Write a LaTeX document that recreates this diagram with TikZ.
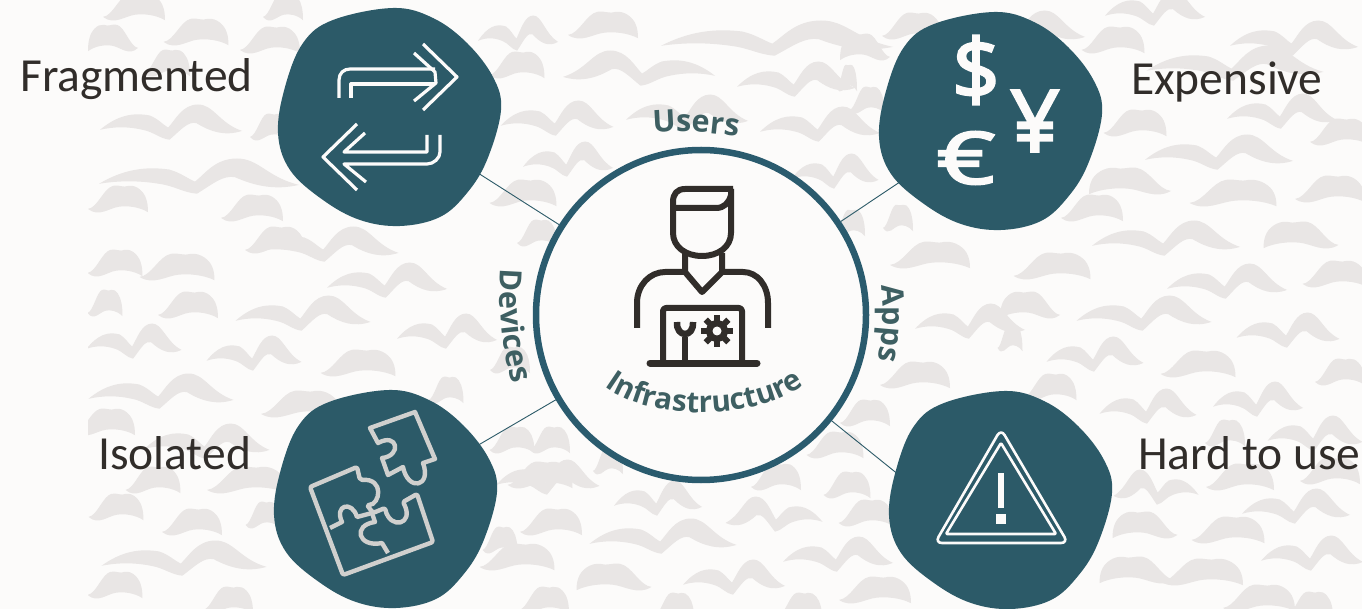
\documentclass[tikz,border=0pt]{standalone}
\usepackage{fontspec}
\setmainfont{Carlito}
\newfontfamily\curvefont{Open Sans}
\newfontfamily\moneyfont[FakeBold=3]{Open Sans}
\usetikzlibrary{decorations.text}
\definecolor{paper}{HTML}{FCFBFA}
\definecolor{smudge}{HTML}{E9E6E5}
\definecolor{teal}{HTML}{2C5A68}
\definecolor{ring}{HTML}{2A5B6E}
\definecolor{ink}{HTML}{312D2A}
\definecolor{curveink}{HTML}{3E5F62}
\definecolor{puzzle}{HTML}{D0D0CE}
\newcommand{\wavelong}{(-50,8) .. controls (-38,-5) and (-27,-8) .. (-15,-5) .. controls (-9,-2) and (-6,3) .. (-2,6) .. controls (3,-1) and (8,-15) .. (19,-15) .. controls (30,-15) and (34,2) .. (50,9) .. controls (38,14) and (28,10) .. (18,2) .. controls (12,0) and (7,8) .. (-1,17) .. controls (-8,16) and (-12,10) .. (-20,8) .. controls (-30,5) and (-40,5) .. (-50,8) -- cycle}
\newcommand{\waveshort}{(-50,9) .. controls (-34,8) and (-24,-10) .. (-8,-12) .. controls (4,-13) and (8,-10) .. (18,-12) .. controls (32,-13) and (44,-6) .. (47,0) .. controls (49,3) and (50,7) .. (50,12) .. controls (35,7) and (15,6) .. (2,7) .. controls (-14,8) and (-32,17) .. (-50,9) -- cycle}
\newcommand{\blobpath}{plot[smooth cycle,tension=0.62] coordinates {(3,-109) (-57,-97) (-87,-74) (-105,-30) (-112,16) (-100,53) (-67,83) (-30,103) (10,109) (50,100) (77,76) (97,43) (111,-7) (103,-40) (77,-74) (43,-99)}}
\begin{document}
\begin{tikzpicture}[x=1pt,y=-1pt,
    sidelabel/.style={anchor=base west,inner sep=0pt,text=ink,font=\fontsize{47.5}{47.5}\selectfont},
    moneysign/.style={inner sep=0pt,text=paper,font=\moneyfont\fontsize{#1}{#1}\selectfont},
    spoke/.style={draw=teal,line width=0.9pt},
    iconline/.style={draw=paper,line width=3.2pt,line join=round},
    dude/.style={draw=ink,line width=6pt,line join=round},
    curvelabel/.style={decorate,decoration={text along path,text align=center}}]
\useasboundingbox (0,0) rectangle (1362,609);
\fill[paper] (0,0) rectangle (1362,609);
\begin{scope}
\clip (88,0) rectangle (1362,609);
\foreach \x/\y/\w in {115/263/55,177/267/75,105/303/35,188/305/60,358/363/75,301/404/80,105/422/60,247/480/80,153/480/55,116/507/55,192/522/60,263/515/35,115/585/55,228/600/50,446/390/35,540/475/65,500/540/35,
  1135/123/63,1340/132/60,1130/181/-82,1233/193/87,1330/189/70,1092/208/62,1301/235/-75,1052/266/77,1335/274/65,1030/305/-60,1010/338/25,1198/364/75,1340/372/50,1050/387/53,
  603/25/70,517/65/55,940/93/50,113/38/-50,196/32/65,270/40/60,134/7/62,283/7/40,167/63/46,118/199/60,252/208/62,275/240/60,270/127/40,
  608/461/30,551/522/62,776/477/50,847/485/47,835/445/57,866/513/55,517/557/75,614/577/-75,875/590/72,544/600/50,674/606/40,800/606/44,550/440/40,
  1240/477/68,1225/433/40,1330/471/60,1145/525/-65,1228/530/73,1137/570/-75,1202/572/82,1259/598/72,1310/605/46,
  912/26/60,1113/40/63,865/47/-50,867/100/35,847/78/20,850/223/30,898/218/30,537/233/40,523/193/67,865/413/50,930/255/80,915/375/70,510/360/40,512/440/45,985/440/50} {
  \begin{scope}[shift={(\x,\y)},xscale=\w/100,yscale=1.1]
  \fill[smudge] \waveshort;
  \end{scope}
}
\foreach \x/\y/\w in {326/243/145,387/279/120,303/312/135,447/330/100,134/340/95,254/352/95,161/390/145,207/440/125,184/557/165,
  1282/110/110,1219/151/148,1166/237/148,1227/280/120,1144/312/135,1288/329/103,1095/353/97,1148/405/97,1258/398/90,
  518/32/80,777/37/232,639/67/-152,796/78/118,557/117/113,687/111/122,820/123/120,171/121/142,199/175/200,568/158/90,835/170/87,
  548/476/103,658/497/88,663/535/147,774/513/-97,838/553/110,734/576/102,
  1156/486/-85,1315/432/95,1296/505/108,1312/552/102,1155/7/100,1294/37/128,1235/62/177,1020/27/130,970/320/110} {
  \begin{scope}[shift={(\x,\y)},xscale=\w/100,yscale=1.1]
  \fill[smudge] \wavelong;
  \end{scope}
}
\end{scope}
\node[circle,draw=ring,fill=paper,line width=6.5pt,minimum size=330pt,inner sep=0pt] (hub) at (701,315) {};
\coordinate (fragc) at (390,117);
\coordinate (costc) at (991,121);
\coordinate (isoc) at (386,499);
\coordinate (hardc) at (930,500);
\path[spoke] (hub) -- (fragc);
\path[spoke] (hub) -- (costc);
\path[spoke] (hub) -- (isoc);
\path[spoke] (hub.-39) -- (hardc);
\begin{scope}[shift={(fragc)}]
\fill[teal] \blobpath;
\end{scope}
\begin{scope}[shift={(costc)}]
\fill[teal] \blobpath;
\end{scope}
\begin{scope}[shift={(isoc)}]
\fill[teal] \blobpath;
\end{scope}
\begin{scope}[shift={(1001,500)}]
\fill[teal] \blobpath;
\end{scope}
\draw[iconline] (423,44) -- (457,77) -- (423,110);
\draw[iconline] (414,53) -- (435,72) -- (436,83) -- (414,101);
\draw[iconline] (339,98) -- (339,80) .. controls (339,73) and (344,69) .. (350,69) -- (435,69);
\draw[iconline] (351,98) -- (351,84) -- (435,84);
\draw[iconline] (357,124) -- (323,157) -- (357,190);
\draw[iconline] (365,133) -- (344,152) -- (427,152) -- (427,135);
\draw[iconline] (440,135) -- (440,152) .. controls (440,158) and (434,164) .. (427,164) -- (344,164) -- (366,182);
\node[moneysign=84] (dollar) at (976,70) {\$};
\node[moneysign=86] (yen) at (1035,121) {¥};
\node[moneysign=72,xscale=1.4] (euro) at (966,158) {€};
\begin{scope}[draw=puzzle,line width=4.4pt,line join=round]
\draw (370,428) -- (415,412) -- (435,459) -- (423,463) .. controls (432,487) and (408,492) .. (403,467) -- (388,475) -- (382,458) .. controls (402,456) and (398,432) .. (378,443) -- cycle;
\draw[rounded corners=2pt] (310,487) -- (357,467) -- (360,480) .. controls (385,478) and (380,505) .. (367,505) -- (373,513) -- (385,508) .. controls (390,530) and (415,525) .. (403,502) -- (417,494) -- (433,542) -- (343,575) -- cycle;
\draw (330,528) -- (342,522) .. controls (334,505) and (352,500) .. (357,517) -- (372,513);
\draw (372,513) -- (375,522) .. controls (352,525) and (358,548) .. (382,543) -- (388,553);
\end{scope}
\draw[iconline,line width=2.6pt,rounded corners=7pt] (1001,429) -- (1068,543) -- (935,543) -- cycle;
\draw[iconline,line width=2.6pt,rounded corners=1pt] (1001,443) -- (1056,534) -- (946,534) -- cycle;
\fill[paper] (998,473) rectangle (1004,508);
\fill[paper] (996,514) rectangle (1006,524);
\draw[dude] (733,189) -- (685,189) .. controls (677,189) and (673,194) .. (673,202) -- (673,233) .. controls (673,247) and (686,256) .. (702,256) .. controls (718,256) and (731,247) .. (731,233) -- (731,189);
\draw[dude] (673,208) -- (716,208) .. controls (724,208) and (729,203) .. (731,195);
\draw[dude] (685,253) -- (685,272) -- (702,292) -- (722,272) -- (722,253);
\draw[dude] (637,328) -- (637,303) .. controls (637,285) and (650,272) .. (665,272) -- (685,272);
\draw[dude] (722,272) -- (743,272) .. controls (757,272) and (768,285) .. (768,303) -- (768,328);
\draw[dude,rounded corners=3pt] (663,362) -- (663,308) -- (742,308) -- (742,362);
\draw[dude,line width=7pt,line cap=round] (650,363) -- (757,363);
\draw[dude,line width=6.5pt] (685,362) -- (685,337);
\draw[dude,line width=6.5pt] (677,322) .. controls (676,338) and (694,338) .. (693,322);
\fill[ink] (717,331) circle[radius=11pt];
\foreach \a in {0,45,...,315} {
  \fill[ink,rotate around={\a:(717,331)}] (714,315) rectangle (720,322);
}
\fill[paper] (717,331) circle[radius=4.5pt];
\path[curvelabel,decoration={text={|\curvefont\bfseries\fontsize{29.5}{29.5}\selectfont\color{curveink}|Infrastructure}}] (597,380) .. controls (640,424) and (765,424) .. (812,378);
\path[curvelabel,decoration={text={|\curvefont\bfseries\fontsize{30.5}{30.5}\selectfont\color{curveink}|Users}}] (645,134) .. controls (680,130) and (712,132) .. (746,138);
\path[curvelabel,decoration={text={|\curvefont\bfseries\fontsize{30.5}{30.5}\selectfont\color{curveink}|Devices}}] (502,260) .. controls (497,305) and (501,350) .. (515,392);
\path[curvelabel,decoration={text={|\curvefont\bfseries\fontsize{30.5}{30.5}\selectfont\color{curveink}|Apps}}] (880,278) .. controls (884,310) and (884,340) .. (876,368);
\node[sidelabel] (fragmented) at (20,92) {Fragmented};
\node[sidelabel] (expensive) at (1131,95) {Expensive};
\node[sidelabel] (isolated) at (98,469) {Isolated};
\node[sidelabel] (hardtouse) at (1138,469) {Hard to use};
\end{tikzpicture}
\end{document}
